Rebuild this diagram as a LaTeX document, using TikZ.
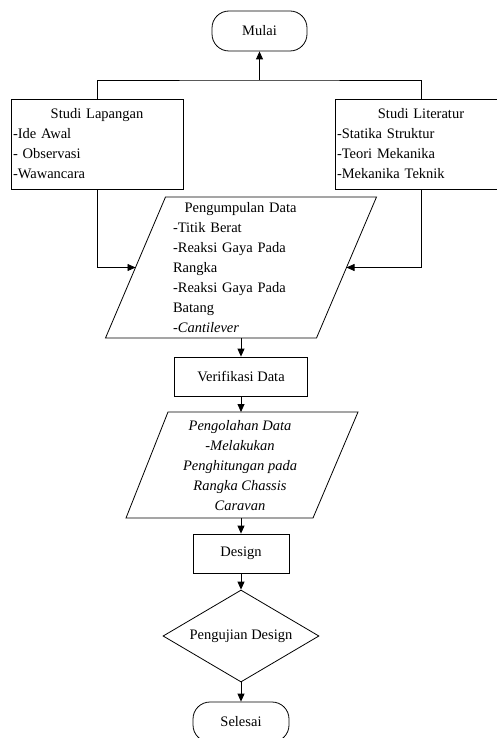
\documentclass[tikz,border=0pt]{standalone}
\usepackage{fontspec}
\setmainfont{Liberation Serif}
\usetikzlibrary{arrows.meta,shapes.geometric,calc}
\newcommand\myfs{\fontsize{14.5}{20}\selectfont}
\begin{document}
\begin{tikzpicture}[x=1pt,y=-1pt,line width=0.8pt,font=\myfs,
  box/.style={draw,rectangle,inner sep=0pt},
  term/.style={draw,rectangle,rounded corners=17pt,minimum width=95pt,minimum height=40pt,inner sep=0pt},
  arr/.style={-{Triangle[length=8pt,width=7pt]}},
  plain/.style={inner sep=0pt}]
\useasboundingbox (0,0) rectangle (497,738);
% terminals
\node[term] (mulai) at (259.5,31) {Mulai};
% study boxes
\node[box,minimum width=172pt,minimum height=90pt,text width=168pt,align=left] (lap) at (97,144)
  {\makebox[168pt]{Studi Lapangan}\\-Ide Awal\\- Observasi\\-Wawancara};
\node[box,minimum width=172pt,minimum height=90pt,text width=168pt,align=left] (lit) at (421,144)
  {\makebox[168pt]{Studi Literatur}\\-Statika Struktur\\-Teori Mekanika\\-Mekanika Teknik};
\coordinate (j) at (259.5,80);
\draw (lap.north) |- (j) -| (lit.north);
\draw[arr] (j) -- (mulai.south);
% Pengumpulan Data parallelogram
\coordinate (aTL) at (165.5,197);
\coordinate (aTR) at (376.5,197);
\coordinate (aBR) at (316.5,338);
\coordinate (aBL) at (105.5,338);
\draw (aTL) -- (aTR) -- (aBR) -- (aBL) -- cycle;
\coordinate (aL) at ($(aTL)!0.5!(aBL)$);
\coordinate (aR) at ($(aTR)!0.5!(aBR)$);
\coordinate (aB) at (241,338);
\node[plain,text width=135pt,align=left] (pgt) at (240.5,268)
  {\makebox[135pt]{Pengumpulan Data}\\-Titik Berat\\-Reaksi Gaya Pada\\Rangka\\-Reaksi Gaya Pada\\Batang\\-\textit{Cantilever}};
\draw[arr] (lap.south) |- (aL);
\draw[arr] (lit.south) |- (aR);
% Verifikasi
\node[box,minimum width=133pt,minimum height=39pt] (ver) at (241,376.5) {Verifikasi Data};
\draw[arr] (aB) -- (ver.north);
% Pengolahan Data parallelogram
\coordinate (bTL) at (168,412);
\coordinate (bTR) at (358,412);
\coordinate (bBR) at (313,518);
\coordinate (bBL) at (126,518);
\draw (bTL) -- (bTR) -- (bBR) -- (bBL) -- cycle;
\coordinate (bT) at (241,412);
\coordinate (bB) at (241,518);
\node[plain,align=center,font=\myfs\itshape] (pot) at (240,466)
  {Pengolahan Data\\-Melakukan\\Penghitungan pada\\Rangka Chassis\\Caravan};
\draw[arr] (ver.south) -- (bT);
% Design
\node[box,minimum width=96pt,minimum height=39pt] (des) at (241,553.5) {Design};
\draw[arr] (bB) -- (des.north);
% Decision
\node[draw,diamond,aspect=1.7,inner sep=0pt,minimum width=156pt,minimum height=92pt] (uji) at (241,636) {Pengujian Design};
\draw[arr] (des.south) -- (uji.north);
% Selesai
\node[term,minimum width=96pt] (sel) at (241,722) {Selesai};
\draw[arr] (uji.south) -- (sel.north);
\end{tikzpicture}
\end{document}
